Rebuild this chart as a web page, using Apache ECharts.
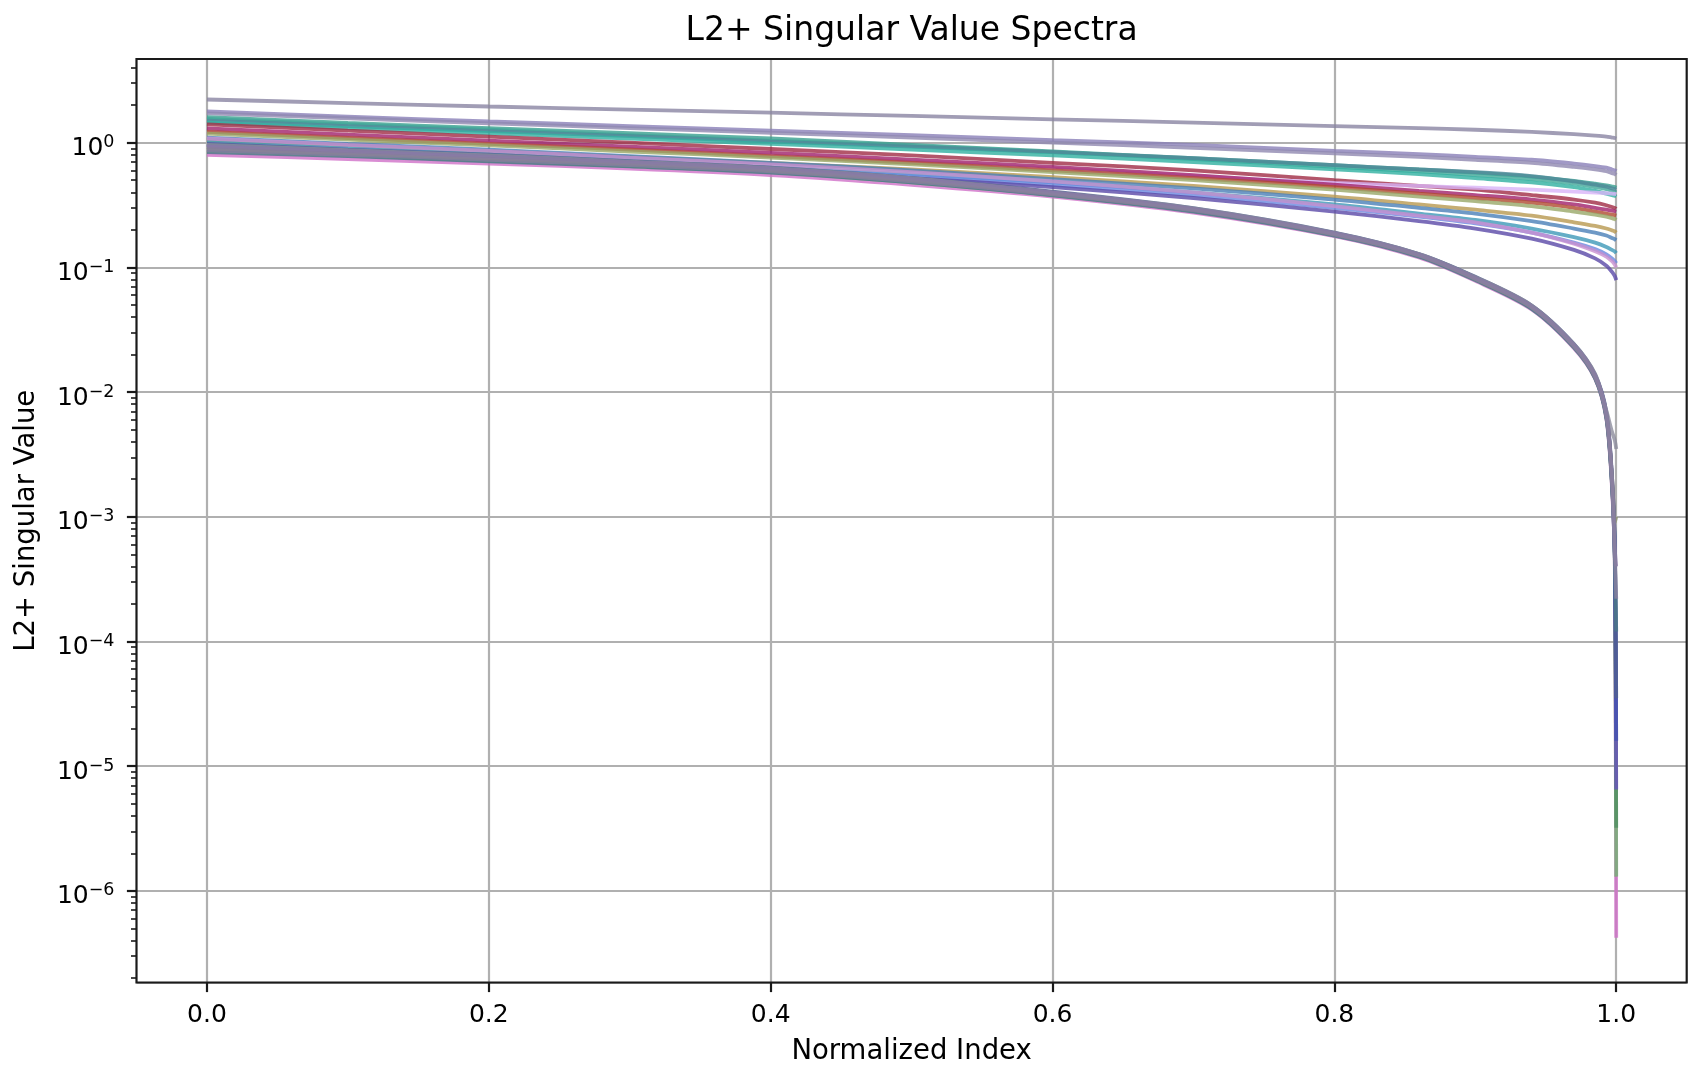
<!DOCTYPE html>
<html>
<head>
<meta charset="utf-8">
<script src="https://cdn.jsdelivr.net/npm/echarts@6/dist/echarts.min.js"></script>
<style>
html,body{margin:0;padding:0;background:#fff;}
#c{width:1696px;height:1076px;}
</style>
</head>
<body>
<div id="c"></div>
<script>
// ---- data ----
const X = [0, 0.1, 0.2, 0.3, 0.4, 0.5, 0.6, 0.7, 0.8, 0.86, 0.9, 0.94, 0.97, 0.985, 0.993, 0.997, 0.999, 1.0];

const lowerNames = ['L01','L02','L03','L04','L05','L06','L07','L08','L09','L10','L11'];
const lowerColors = ['#d070c8','#72b272','#4f9060','#6a50c0','#4450b0','#506090','#4a7888','#8a9070','#8c8c9c','#8878a8','#8a80a0'];
const lower01 = [0.80, 0.74, 0.68, 0.62, 0.55, 0.46, 0.37, 0.275, 0.178, 0.12, 0.078, 0.046, 0.0225, 0.0128, 0.0061, 0.0017, 0.0004, 4.2e-7];
const lower02 = [0.86, 0.79, 0.72, 0.65, 0.58, 0.48, 0.38, 0.283, 0.182, 0.123, 0.08, 0.047, 0.023, 0.013, 0.0063, 0.0018, 0.00045, 1.3e-6];
const lower03 = [0.92, 0.84, 0.76, 0.69, 0.61, 0.51, 0.395, 0.292, 0.186, 0.126, 0.082, 0.048, 0.0235, 0.0133, 0.0065, 0.0019, 0.0005, 3.2e-6];
const lower04 = [0.95, 0.86, 0.78, 0.70, 0.62, 0.515, 0.40, 0.295, 0.188, 0.127, 0.083, 0.049, 0.024, 0.0136, 0.0067, 0.002, 0.00052, 6.5e-6];
const lower05 = [0.88, 0.81, 0.74, 0.67, 0.595, 0.495, 0.387, 0.287, 0.184, 0.124, 0.081, 0.0475, 0.0233, 0.0132, 0.0064, 0.0019, 0.0005, 1.6e-5];
const lower06 = [0.98, 0.88, 0.80, 0.71, 0.63, 0.52, 0.405, 0.298, 0.19, 0.128, 0.084, 0.0495, 0.0243, 0.0138, 0.0069, 0.0021, 0.00055, 3.5e-5];
const lower07 = [0.84, 0.78, 0.71, 0.645, 0.575, 0.48, 0.378, 0.28, 0.18, 0.122, 0.079, 0.0465, 0.0228, 0.0129, 0.0062, 0.0018, 0.00048, 1.2e-4];
const lower08 = [0.90, 0.82, 0.75, 0.68, 0.60, 0.50, 0.39, 0.29, 0.185, 0.125, 0.081, 0.048, 0.0235, 0.0134, 0.0066, 0.0021, 0.0009, 1.0e-3];
const lower09 = [0.96, 0.87, 0.79, 0.705, 0.625, 0.52, 0.40, 0.297, 0.189, 0.128, 0.0835, 0.0495, 0.0242, 0.014, 0.0071, 0.0048, 0.0041, 3.5e-3];
const lower10 = [0.93, 0.85, 0.77, 0.695, 0.615, 0.51, 0.398, 0.293, 0.187, 0.126, 0.082, 0.0485, 0.0237, 0.0135, 0.0066, 0.002, 0.00055, 4e-4];
const lower11 = [0.87, 0.80, 0.73, 0.66, 0.59, 0.49, 0.385, 0.286, 0.183, 0.124, 0.0805, 0.0475, 0.0232, 0.0131, 0.0064, 0.0019, 0.0005, 2.2e-4];

const upperNames = ['U01','U02','U03','U04','U05','U06','U07','U08','U09','U10','U11','U12','U13','U14','U15','U16','U17','U18'];
const upperColors = ['#8a84a2','#8a7fb8','#9088b0','#3aa090','#40a898','#4f8898','#30b0a0','#a02c45','#d8b4f8','#a0206a','#b04a30','#98a868','#b89850','#4a80b8','#3d98b8','#6a88e0','#c890d0','#5a48a8'];
const upper01 = [2.22, 2.08, 1.95, 1.84, 1.74, 1.64, 1.54, 1.45, 1.36, 1.31, 1.27, 1.22, 1.17, 1.14, 1.12, 1.10, 1.09, 1.08];
const upper02 = [1.78, 1.62, 1.48, 1.36, 1.25, 1.15, 1.05, 0.96, 0.86, 0.81, 0.77, 0.73, 0.68, 0.65, 0.63, 0.61, 0.60, 0.59];
const upper03 = [1.72, 1.57, 1.43, 1.31, 1.20, 1.10, 1.00, 0.91, 0.82, 0.77, 0.73, 0.69, 0.64, 0.61, 0.59, 0.57, 0.56, 0.55];
const upper04 = [1.60, 1.44, 1.31, 1.19, 1.08, 0.96, 0.85, 0.75, 0.66, 0.61, 0.575, 0.535, 0.495, 0.47, 0.455, 0.445, 0.44, 0.435];
const upper05 = [1.55, 1.40, 1.27, 1.15, 1.04, 0.94, 0.84, 0.74, 0.64, 0.59, 0.55, 0.51, 0.47, 0.44, 0.425, 0.41, 0.405, 0.40];
const upper06 = [1.50, 1.36, 1.24, 1.13, 1.02, 0.93, 0.84, 0.75, 0.66, 0.61, 0.58, 0.54, 0.49, 0.46, 0.445, 0.43, 0.425, 0.42];
const upper07 = [1.45, 1.31, 1.19, 1.08, 0.98, 0.88, 0.79, 0.70, 0.61, 0.56, 0.52, 0.48, 0.44, 0.41, 0.39, 0.38, 0.375, 0.37];
const upper08 = [1.40, 1.25, 1.12, 1.00, 0.89, 0.79, 0.69, 0.60, 0.50, 0.45, 0.42, 0.38, 0.35, 0.33, 0.315, 0.305, 0.30, 0.295];
const upper09 = [1.22, 1.10, 0.99, 0.89, 0.79, 0.70, 0.62, 0.54, 0.475, 0.45, 0.435, 0.42, 0.405, 0.398, 0.393, 0.39, 0.388, 0.386];
const upper10 = [1.30, 1.16, 1.04, 0.93, 0.83, 0.73, 0.64, 0.55, 0.46, 0.41, 0.38, 0.35, 0.32, 0.30, 0.29, 0.285, 0.282, 0.28];
const upper11 = [1.22, 1.09, 0.98, 0.88, 0.78, 0.69, 0.60, 0.52, 0.44, 0.39, 0.36, 0.33, 0.30, 0.28, 0.27, 0.265, 0.262, 0.26];
const upper12 = [1.18, 1.06, 0.95, 0.85, 0.76, 0.67, 0.58, 0.50, 0.42, 0.37, 0.34, 0.31, 0.28, 0.265, 0.255, 0.248, 0.244, 0.24];
const upper13 = [1.05, 0.95, 0.86, 0.77, 0.69, 0.61, 0.53, 0.45, 0.37, 0.32, 0.29, 0.26, 0.23, 0.215, 0.205, 0.198, 0.194, 0.19];
const upper14 = [1.10, 0.98, 0.88, 0.78, 0.69, 0.60, 0.51, 0.43, 0.35, 0.30, 0.27, 0.235, 0.205, 0.19, 0.18, 0.172, 0.168, 0.165];
const upper15 = [1.02, 0.91, 0.82, 0.73, 0.64, 0.56, 0.48, 0.40, 0.32, 0.27, 0.24, 0.205, 0.175, 0.158, 0.146, 0.138, 0.134, 0.13];
const upper16 = [0.98, 0.88, 0.79, 0.70, 0.62, 0.54, 0.46, 0.38, 0.30, 0.255, 0.225, 0.19, 0.158, 0.14, 0.127, 0.118, 0.112, 0.108];
const upper17 = [1.08, 0.96, 0.86, 0.76, 0.67, 0.58, 0.49, 0.40, 0.31, 0.26, 0.23, 0.19, 0.155, 0.135, 0.122, 0.112, 0.105, 0.10];
const upper18 = [0.95, 0.85, 0.76, 0.68, 0.60, 0.52, 0.44, 0.36, 0.28, 0.235, 0.205, 0.17, 0.138, 0.118, 0.103, 0.092, 0.085, 0.079];

const lowerSeries = [lower01, lower02, lower03, lower04, lower05, lower06, lower07, lower08, lower09, lower10, lower11];
const upperSeries = [upper01, upper02, upper03, upper04, upper05, upper06, upper07, upper08, upper09, upper10, upper11, upper12, upper13, upper14, upper15, upper16, upper17, upper18];

const xTicks = [0, 0.2, 0.4, 0.6, 0.8, 1.0];
const yDecades = [1e-7, 1e-6, 1e-5, 1e-4, 1e-3, 1e-2, 1e-1, 1];
const xMin = -0.05, xMax = 1.05;
const yMin = 1.84e-7, yMax = 4.69;

// ---- chart ----
const W = 1696, Hh = 1076;
const G = {left: 136.5, right: 9.3, top: 59, bottom: 93.5};
const FONT = 'DejaVu Sans';

const minorTicks = [];
yDecades.forEach(d => { for (let k = 2; k <= 9; k++) { const v = k * d; if (v >= yMin && v <= yMax) minorTicks.push(Math.log10(v)); } });
const majorTicks = yDecades.filter(v => v >= yMin && v <= yMax).map(v => Math.log10(v));

function supLabel(v) {
  const e = Math.round(Math.log10(v));
  const s = e < 0 ? '\u2212' + Math.abs(e) : String(e);
  return '{b|10}{s|' + s + '}';
}

const series = [];
function addSeries(names, colors, arrs) {
  arrs.forEach((arr, i) => {
    series.push({
      name: names[i], type: 'line', xAxisIndex: 0, yAxisIndex: 0,
      showSymbol: false, symbol: 'none', smooth: 0.3,
      lineStyle: {color: colors[i], width: 3.8, opacity: 0.8},
      itemStyle: {color: colors[i]},
      data: X.map((x, j) => [x, arr[j]]),
      z: 3
    });
  });
}
addSeries(upperNames, upperColors, upperSeries);
addSeries(lowerNames, lowerColors, lowerSeries);

const chart = echarts.init(document.getElementById('c'), null, {renderer: 'canvas', width: W, height: Hh});
const axisCenterX = G.left + (W - G.left - G.right) / 2;

chart.setOption({
  animation: false,
  backgroundColor: '#ffffff',
  title: {
    text: 'L2+ Singular Value Spectra',
    left: axisCenterX, top: 15, textAlign: 'center', padding: 0,
    textStyle: {fontFamily: FONT, fontSize: 33, fontWeight: 'normal', color: '#000'}
  },
  grid: {
    left: G.left, right: G.right, top: G.top, bottom: G.bottom,
    show: true, borderColor: '#1a1a1a', borderWidth: 2.2, backgroundColor: 'transparent',
    z: 10, containLabel: false, outerBoundsMode: 'none'
  },
  xAxis: [{
    type: 'value', min: xMin, max: xMax, position: 'bottom',
    name: 'Normalized Index', nameLocation: 'middle', nameGap: 55,
    nameTextStyle: {fontFamily: FONT, fontSize: 27.5, color: '#000'},
    axisLine: {show: false, onZero: false},
    axisTick: {show: true, customValues: xTicks, length: 9.6, lineStyle: {color: '#1a1a1a', width: 2.2}},
    axisLabel: {show: true, customValues: xTicks, margin: 20, fontFamily: FONT, fontSize: 25, color: '#000',
      formatter: v => Number(v).toFixed(1)},
    splitLine: {show: true, lineStyle: {color: '#b0b0b0', width: 2.2}}
  }],
  yAxis: [{
    type: 'log', logBase: 10, min: yMin, max: yMax, position: 'left',
    name: 'L2+ Singular Value', nameLocation: 'middle', nameGap: 96, nameRotate: 90,
    nameTextStyle: {fontFamily: FONT, fontSize: 27.5, color: '#000'},
    axisLine: {show: false, onZero: false},
    axisTick: {show: false},
    axisLabel: {show: true, margin: 22, showMinLabel: false, showMaxLabel: false,
      formatter: supLabel,
      rich: {
        b: {fontFamily: FONT, fontSize: 25, lineHeight: 25, verticalAlign: 'bottom', color: '#000'},
        s: {fontFamily: FONT, fontSize: 17.5, lineHeight: 37, verticalAlign: 'middle', color: '#000'}
      }},
    splitLine: {show: true, lineStyle: {color: '#b0b0b0', width: 2.2}}
  }, {
    type: 'value', min: Math.log10(yMin), max: Math.log10(yMax), position: 'left', offset: 0,
    axisLine: {show: false, onZero: false}, axisLabel: {show: false}, splitLine: {show: false},
    axisTick: {show: true, customValues: majorTicks, length: 9.6, lineStyle: {color: '#1a1a1a', width: 2.2}}
  }, {
    type: 'value', min: Math.log10(yMin), max: Math.log10(yMax), position: 'left', offset: 0,
    axisLine: {show: false, onZero: false}, axisLabel: {show: false}, splitLine: {show: false},
    axisTick: {show: true, customValues: minorTicks, length: 5.5, lineStyle: {color: '#1a1a1a', width: 1.6}}
  }],
  series: series
});
</script>
</body>
</html>
